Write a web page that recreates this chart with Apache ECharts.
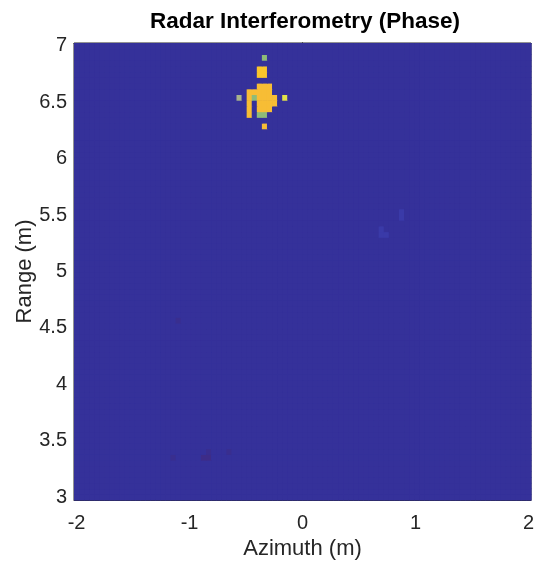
<!DOCTYPE html>
<html>
<head>
<meta charset="utf-8">
<script src="https://cdn.jsdelivr.net/npm/echarts@6/dist/echarts.min.js"></script>
<style>
html,body{margin:0;padding:0;background:#fff}
#main{width:534px;height:565px}
</style>
</head>
<body>
<div id="main"></div>
<script>
// 成像网格: 像素中心从 -2 到 2 (方位), 3 到 7 (距离)
var xRange=[-2,2], nx=90;
var yRange=[3,7], ny=80;
var xTicks=[-2,-1,0,1,2];
var yTicks=[3,3.5,4,4.5,5,5.5,6,6.5,7];
// 背景相位
var baseV=0;
// 亮点: 中心坐标 + 相位值
var hotX=[-0.34,
    -0.38,-0.34,-0.38,-0.34,
    -0.38,-0.34,-0.29, -0.38,-0.34,-0.29, -0.38,-0.34,-0.29, -0.38,-0.34,-0.29, -0.38,-0.34,-0.29,
    -0.25,-0.25,
    -0.47,-0.47,-0.47,-0.47,-0.47,-0.43,-0.43,
    -0.38,-0.34,
    -0.56,-0.16,-0.34,
    0.69,0.73,0.69,0.87,0.87,
    -1.09,
    -1.16,-0.87,-0.82,-0.82,-0.64];
var hotY=[6.90,
    6.80,6.80,6.75,6.75,
    6.65,6.65,6.65, 6.60,6.60,6.60, 6.55,6.55,6.55, 6.49,6.49,6.49, 6.44,6.44,6.44,
    6.55,6.49,
    6.60,6.55,6.49,6.44,6.39,6.60,6.55,
    6.39,6.39,
    6.55,6.55,6.29,
    5.33,5.33,5.38,5.48,5.53,
    4.58,
    3.33,3.33,3.33,3.38,3.38];
var hotV=[0.6,
    0.93,0.93,0.93,0.93,
    0.88,0.88,0.88, 0.88,0.88,0.88, 0.88,0.88,0.88, 0.88,0.88,0.88, 0.88,0.88,0.88,
    0.88,0.88,
    0.88,0.88,0.88,0.88,0.88,0.88,0.6,
    0.62,0.62,
    0.72,0.98,0.88,
    0.05,0.03,0.03,0.03,0.03,
    -0.04,
    -0.04,-0.06,-0.06,-0.04,-0.04];

var dx=(xRange[1]-xRange[0])/(nx-1);
var dy=(yRange[1]-yRange[0])/(ny-1);

// 建立网格
var cells=[];
for(var j=0;j<ny;j++){
    var row=[];
    for(var i=0;i<nx;i++) row.push(baseV);
    cells.push(row);
}
hotX.forEach(function(x,k){
    var i=Math.round((x-xRange[0])/dx);
    var j=Math.round((hotY[k]-yRange[0])/dy);
    if(i>=0&&i<nx&&j>=0&&j<ny) cells[j][i]=hotV[k];
});
var data=[];
for(var j=0;j<ny;j++){
    for(var i=0;i<nx;i++){
        data.push([xRange[0]+i*dx, yRange[0]+j*dy, cells[j][i]]);
    }
}

var font='"Liberation Sans", Arial, Helvetica, sans-serif';
var ink='#262626';
var myChart=echarts.init(document.getElementById('main'));
var axisCommon={
    type:'value',
    axisLine:{show:true,lineStyle:{color:ink,width:1}},
    splitLine:{show:false},
    nameMoveOverlap:false,
    nameTextStyle:{fontFamily:font,fontSize:22,color:ink}
};
var xMin=xRange[0]-dx/2, xMax=xRange[1]+dx/2;
var yMin=yRange[0]-dy/2, yMax=yRange[1]+dy/2;
var option={
    backgroundColor:'#fff',
    animation:false,
    grid:{left:74,top:43,width:457,height:457,outerBoundsMode:'none',show:true,borderColor:ink,borderWidth:1,backgroundColor:'#35319a'},
    graphic:[{
        type:'text',x:305,y:22,
        style:{text:'Radar Interferometry (Phase)',fontFamily:font,fontSize:22.5,fontWeight:'bold',fill:'#000',textAlign:'center',textVerticalAlign:'middle'}
    }],
    xAxis:[
        Object.assign({},axisCommon,{
            min:xMin,max:xMax,
            name:'Azimuth (m)',nameLocation:'middle',nameGap:38,
            axisTick:{show:true,inside:true,length:5,customValues:xTicks,lineStyle:{color:ink}},
            axisLabel:{fontFamily:font,fontSize:20,color:ink,margin:13,customValues:xTicks}
        }),
        Object.assign({},axisCommon,{
            position:'top',min:xMin,max:xMax,
            axisTick:{show:true,inside:true,length:5,customValues:xTicks,lineStyle:{color:ink}},
            axisLabel:{show:false}
        })
    ],
    yAxis:[
        Object.assign({},axisCommon,{
            min:yMin,max:yMax,
            name:'Range (m)',nameLocation:'middle',nameGap:38,
            axisTick:{show:true,inside:true,length:5,customValues:yTicks,lineStyle:{color:ink}},
            axisLabel:{fontFamily:font,fontSize:20,color:ink,margin:7,customValues:yTicks}
        }),
        Object.assign({},axisCommon,{
            position:'right',min:yMin,max:yMax,
            axisTick:{show:true,inside:true,length:5,customValues:yTicks,lineStyle:{color:ink}},
            axisLabel:{show:false}
        })
    ],
    visualMap:{
        type:'piecewise',show:false,dimension:2,seriesIndex:0,
        pieces:[
            {lt:-0.05,color:'#3d2c88'},
            {gte:-0.05,lt:-0.02,color:'#392e8f'},
            {gte:-0.02,lt:0.02,color:'#35319a'},
            {gte:0.02,lt:0.2,color:'#3a3aa8'},
            {gte:0.2,lt:0.7,color:'#8ebb78'},
            {gte:0.7,lt:0.8,color:'#a8b38b'},
            {gte:0.8,lt:0.9,color:'#f7bd35'},
            {gte:0.9,lt:0.95,color:'#fbc52b'},
            {gte:0.95,color:'#e2e34a'}
        ]
    },
    series:[{
        type:'custom',
        clip:true,
        data:data,
        encode:{x:0,y:1},
        renderItem:function(params,api){
            var p=api.coord([api.value(0),api.value(1)]);
            var s=api.size([dx,dy]);
            return {
                type:'rect',
                shape:{x:p[0]-s[0]/2,y:p[1]-s[1]/2,width:s[0]+0.6,height:s[1]+0.6},
                style:{fill:api.visual('color')}
            };
        }
    }]
};
myChart.setOption(option);
</script>
</body>
</html>
